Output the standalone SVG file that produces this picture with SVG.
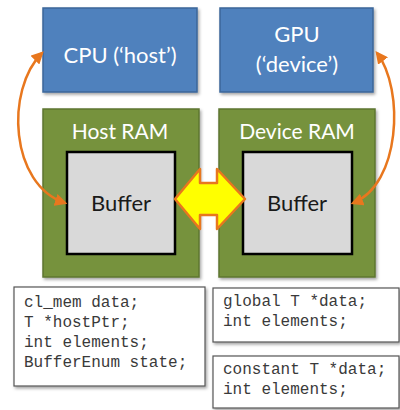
<svg xmlns="http://www.w3.org/2000/svg" width="400" height="410" viewBox="0 0 400 410">
<defs>
<filter id="sh" x="-10%" y="-10%" width="125%" height="125%">
<feDropShadow dx="1.5" dy="2" stdDeviation="1.5" flood-color="#000" flood-opacity="0.35"/>
</filter>
<marker id="ah" viewBox="0 0 10 10" refX="8" refY="5" markerWidth="5" markerHeight="5" orient="auto-start-reverse" markerUnits="strokeWidth">
<path d="M0,0 L10,5 L0,10 Z" fill="#E8771E"/>
</marker>
<style>
.proc{fill:#4F81BD;stroke:#3B6699;stroke-width:1.5}
.ram{fill:#76923C;stroke:#5E7630;stroke-width:1.5}
.buf{fill:#D9D9D9;stroke:#000;stroke-width:2.5}
.code{fill:#fff;stroke:#555;stroke-width:1.2}
.wt{fill:#fff;font-family:Lato,"Open Sans",sans-serif;text-anchor:middle}
.bt{fill:#1a1a1a;font-family:Lato,"Open Sans",sans-serif;font-size:22px;text-anchor:middle}
.ct{fill:#3a3a3a;font-family:"Courier New","Liberation Mono",monospace;font-size:16px}
.conn{fill:none;stroke:#E8771E;stroke-width:2.5;marker-start:url(#ah);marker-end:url(#ah)}
</style>
</defs>
<g id="cpu"><rect class="proc" x="43" y="8" width="154" height="84" filter="url(#sh)"/><text class="wt" x="120" y="63" font-size="22">CPU (‘host’)</text></g>
<g id="gpu"><rect class="proc" x="220" y="8" width="153" height="84" filter="url(#sh)"/><text class="wt" x="297" y="42" font-size="22">GPU</text><text class="wt" x="297" y="72" font-size="22">(‘device’)</text></g>
<g id="hostram"><rect class="ram" x="43" y="109" width="156" height="168" filter="url(#sh)"/><text class="wt" x="120" y="139" font-size="21">Host RAM</text></g>
<g id="devram"><rect class="ram" x="219" y="109" width="156" height="168" filter="url(#sh)"/><text class="wt" x="297" y="139" font-size="21">Device RAM</text></g>
<g id="hostbuf"><rect class="buf" x="67" y="152" width="108" height="102"/><text class="bt" x="121" y="211">Buffer</text></g>
<g id="devbuf"><rect class="buf" x="243" y="152" width="109" height="102"/><text class="bt" x="297" y="211">Buffer</text></g>
<g id="connectors">
<path class="conn" d="M65,203 C10,185 5,90 42,53"/>
<path class="conn" d="M353,203 C400,185 405,90 377,53"/>
<polygon points="175,199 200,169 200,183 217,183 217,169 245,199 217,229 217,215 200,215 200,229" fill="#FFFF00" stroke="#E8771E" stroke-width="2.5" stroke-linejoin="round"/>
</g>
<g id="hostcode"><rect class="code" x="14" y="287" width="191" height="99" filter="url(#sh)"/>
<text class="ct" x="24" y="307">cl_mem data;</text>
<text class="ct" x="24" y="327">T *hostPtr;</text>
<text class="ct" x="24" y="347">int elements;</text>
<text class="ct" x="24" y="367">BufferEnum state;</text></g>
<g id="globalcode"><rect class="code" x="213" y="288" width="186" height="54" filter="url(#sh)"/>
<text class="ct" x="223" y="306">global T *data;</text>
<text class="ct" x="223" y="326">int elements;</text></g>
<g id="constcode"><rect class="code" x="213" y="356" width="186" height="52" filter="url(#sh)"/>
<text class="ct" x="223" y="374">constant T *data;</text>
<text class="ct" x="223" y="394">int elements;</text></g>
</svg>
